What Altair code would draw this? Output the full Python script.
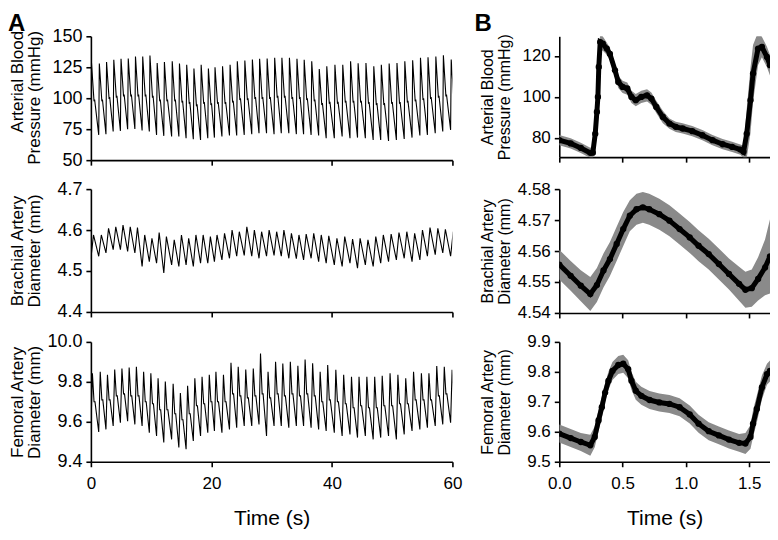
import altair as alt
import pandas as pd

# ---------------- Panel A: 60-s recordings (one entry per heartbeat) ----------------
beat_t = [0.1, 1.4, 2.6, 3.8, 5.0, 6.2, 7.4, 8.6, 9.8, 11.0, 12.2, 13.5, 14.7, 15.9, 17.1,
          18.3, 19.5, 20.6, 21.85, 23.1, 24.3, 25.55, 26.8, 28.0, 29.25, 30.5, 31.7, 32.95,
          34.2, 35.4, 36.65, 37.9, 39.15, 40.5, 41.8, 43.1, 44.35, 45.65, 46.95, 48.2, 49.5,
          50.8, 52.1, 53.4, 54.7, 55.95, 57.25, 58.5, 59.8]

bp_peak = [128.5, 128, 129.3, 131, 131.8, 132, 133.6, 133.6, 134.5, 128.5, 129.3, 129.9, 128,
           127.1, 123.9, 127.1, 123.9, 125, 125.8, 127.1, 129.9, 130.5, 131.3, 131.8, 132,
           132.6, 132.6, 132.6, 131.8, 131, 129.9, 123.6, 125.8, 127.1, 127.1, 129.9, 128.3,
           128.5, 125.8, 127.1, 128, 128.5, 129.9, 130.7, 132.6, 133.1, 133.6, 134.7, 131.3]
bp_trough = [100, 70.4, 70.9, 73.1, 73.6, 75.0, 75.2, 73.9, 73.1, 70.4, 69.6, 69.1, 69.1, 67.7,
             66.9, 66.3, 67.7, 68.2, 69.1, 69.9, 69.9, 70.4, 70.9, 71.7, 71.7, 70.9, 71.7, 71.7,
             71.0, 70.9, 70.4, 69.9, 67.7, 67.7, 69.1, 67.7, 68.2, 67.7, 66.3, 66.3, 65.5, 66.3,
             67.1, 68.2, 69.9, 70.4, 71.7, 73.1, 74.4]
bp_notch = [99, 99, 101, 102, 103, 103, 103, 103, 102, 99, 99, 99, 98, 97, 95, 97, 96, 97, 97,
            98, 100, 100, 101, 101, 101, 102, 102, 101, 101, 100, 99, 96, 97, 97, 98, 98, 98, 97,
            96, 96, 97, 97, 98, 99, 100, 101, 102, 103, 102]
bp_end = 73.0

ba_peak = [4.588, 4.588, 4.604, 4.608, 4.612, 4.608, 4.606, 4.588, 4.580, 4.594, 4.584, 4.576,
           4.588, 4.580, 4.588, 4.588, 4.584, 4.588, 4.592, 4.600, 4.596, 4.608, 4.600, 4.596,
           4.600, 4.596, 4.600, 4.592, 4.588, 4.590, 4.592, 4.588, 4.586, 4.580, 4.584, 4.578,
           4.580, 4.576, 4.584, 4.588, 4.590, 4.594, 4.596, 4.592, 4.600, 4.606, 4.604, 4.602,
           4.596]
ba_trough = [4.530, 4.536, 4.544, 4.552, 4.552, 4.548, 4.544, 4.511, 4.523, 4.519, 4.495, 4.515,
             4.511, 4.515, 4.511, 4.519, 4.519, 4.523, 4.527, 4.531, 4.536, 4.538, 4.536, 4.531,
             4.536, 4.538, 4.536, 4.531, 4.530, 4.527, 4.531, 4.523, 4.519, 4.515, 4.511, 4.519,
             4.507, 4.515, 4.511, 4.519, 4.523, 4.527, 4.531, 4.523, 4.527, 4.536, 4.540, 4.544,
             4.536]
ba_end = 4.54

fa_peak = [9.843, 9.851, 9.835, 9.862, 9.867, 9.872, 9.876, 9.851, 9.843, 9.818, 9.802, 9.790,
           9.744, 9.780, 9.818, 9.826, 9.835, 9.851, 9.835, 9.895, 9.876, 9.862, 9.867, 9.942,
           9.851, 9.901, 9.892, 9.901, 9.880, 9.912, 9.893, 9.851, 9.884, 9.860, 9.835, 9.826,
           9.826, 9.826, 9.826, 9.830, 9.843, 9.835, 9.818, 9.851, 9.843, 9.843, 9.879, 9.876,
           9.860]
fa_trough = [9.560, 9.549, 9.562, 9.579, 9.595, 9.603, 9.587, 9.579, 9.545, 9.529, 9.496, 9.512,
             9.471, 9.463, 9.504, 9.529, 9.545, 9.554, 9.545, 9.562, 9.570, 9.579, 9.579, 9.587,
             9.529, 9.579, 9.579, 9.570, 9.579, 9.579, 9.570, 9.562, 9.554, 9.545, 9.529, 9.537,
             9.521, 9.529, 9.512, 9.521, 9.529, 9.512, 9.537, 9.554, 9.562, 9.570, 9.579, 9.587,
             9.595]
fa_shoulder = [9.70, 9.71, 9.71, 9.73, 9.74, 9.73, 9.73, 9.70, 9.69, 9.66, 9.66, 9.64, 9.61, 9.64,
               9.68, 9.69, 9.70, 9.70, 9.70, 9.74, 9.73, 9.72, 9.73, 9.74, 9.72, 9.74, 9.73, 9.74,
               9.73, 9.74, 9.73, 9.70, 9.71, 9.70, 9.69, 9.67, 9.68, 9.67, 9.67, 9.68, 9.68, 9.69,
               9.69, 9.71, 9.71, 9.71, 9.73, 9.74, 9.73]
fa_end = 9.59

# ---------------- Panel B: ensemble-averaged cardiac cycle (mean and SD) ----------------
bp_t = [0.0, 0.09, 0.17, 0.245, 0.265, 0.284, 0.297, 0.305, 0.312, 0.323, 0.344, 0.375, 0.40,
        0.44, 0.466, 0.5, 0.537, 0.57, 0.604, 0.648, 0.693, 0.727, 0.766, 0.818, 0.87, 0.92,
        0.974, 1.05, 1.13, 1.21, 1.29, 1.365, 1.43, 1.455, 1.48, 1.51, 1.53, 1.57, 1.6, 1.64,
        1.664]
bp_mean = [78.9, 77.3, 75.1, 72.7, 72.8, 82, 92.7, 100, 114.6, 126.8, 126, 123.6, 121, 113,
           107.3, 104.9, 104.1, 100, 98.4, 100, 100.8, 99.2, 95.1, 90.2, 87, 85.4, 84.6, 83.3,
           81.3, 78.9, 76.9, 75.6, 74.3, 73.2, 82, 98.4, 111.4, 123.6, 124.4, 119.5, 115.5]
bp_sd = [2.5, 2.5, 2.5, 2.5, 3, 8, 10, 10, 8, 4, 3.5, 3, 3, 3, 3, 3, 3, 3, 3, 3, 3, 3, 3, 3,
         2.5, 2.5, 2.5, 2.5, 2.5, 2.5, 2.5, 2.5, 2.5, 3, 12, 16, 14, 8, 5, 5, 5]

ba_t = [0.0, 0.09, 0.17, 0.245, 0.297, 0.349, 0.40, 0.453, 0.505, 0.557, 0.61, 0.66, 0.71, 0.79,
        0.87, 0.95, 1.03, 1.10, 1.18, 1.26, 1.34, 1.42, 1.47, 1.52, 1.57, 1.625, 1.664]
ba_mean = [4.5556, 4.552, 4.5488, 4.5461, 4.549, 4.5537, 4.5574, 4.5623, 4.5671, 4.5714, 4.5735,
           4.5741, 4.5735, 4.5719, 4.5698, 4.5671, 4.5644, 4.5617, 4.559, 4.5558, 4.5526,
           4.5494, 4.5475, 4.548, 4.551, 4.5547, 4.5583]
ba_sd = [0.0048, 0.0048, 0.005, 0.0055, 0.0055, 0.0055, 0.0055, 0.0055, 0.0055, 0.005, 0.005,
         0.005, 0.005, 0.005, 0.005, 0.005, 0.005, 0.005, 0.005, 0.005, 0.005, 0.0055, 0.0058,
         0.006, 0.007, 0.009, 0.012]

fa_t = [0.0, 0.09, 0.17, 0.245, 0.28, 0.31, 0.336, 0.362, 0.388, 0.42, 0.466, 0.505, 0.544, 0.57,
        0.604, 0.648, 0.713, 0.79, 0.87, 0.95, 1.03, 1.10, 1.18, 1.26, 1.34, 1.42, 1.47, 1.51,
        1.53, 1.56, 1.6, 1.64, 1.664]
fa_mean = [9.594, 9.579, 9.566, 9.555, 9.583, 9.638, 9.682, 9.731, 9.77, 9.803, 9.823, 9.827,
           9.809, 9.77, 9.737, 9.72, 9.706, 9.698, 9.693, 9.682, 9.658, 9.627, 9.602, 9.588,
           9.574, 9.563, 9.561, 9.583, 9.627, 9.676, 9.748, 9.792, 9.803]
fa_sd = [0.03, 0.03, 0.03, 0.035, 0.035, 0.035, 0.035, 0.03, 0.03, 0.03, 0.03, 0.03, 0.03, 0.03,
         0.03, 0.03, 0.03, 0.03, 0.03, 0.03, 0.03, 0.03, 0.03, 0.03, 0.03, 0.03, 0.035, 0.04,
         0.045, 0.045, 0.04, 0.035, 0.035]

# ---------------- build tables ----------------
FONT = "Liberation Sans"
LW, RW = 362, 211
H1, H2, H3 = 124, 123, 120
RH1, RH2, RH3 = 121, 124, 120


def bp_table():
    t, v = [], []
    for i, tp in enumerate(beat_t):
        t += [tp - 0.1, tp, tp + 0.42, tp + 0.52]
        v += [bp_trough[i], bp_peak[i], bp_notch[i] - 1.5, bp_notch[i]]
    t.append(beat_t[-1] + 1.2)
    v.append(bp_end)
    return pd.DataFrame({"t": t, "v": v})


def ba_table():
    t, v = [], []
    for i, tp in enumerate(beat_t):
        t += [tp - 0.1, tp + 0.33]
        v += [ba_trough[i], ba_peak[i]]
    t.append(beat_t[-1] + 1.2)
    v.append(ba_end)
    return pd.DataFrame({"t": t, "v": v})


def fa_table():
    t, v = [], []
    for i, tp in enumerate(beat_t):
        t += [tp - 0.1, tp + 0.15, tp + 0.42, tp + 0.58]
        v += [fa_trough[i], fa_peak[i], fa_shoulder[i], fa_shoulder[i]]
    t.append(beat_t[-1] + 1.2)
    v.append(fa_end)
    return pd.DataFrame({"t": t, "v": v})


def avg_table(ts, ms, sds):
    return pd.DataFrame({"t": ts, "m": ms,
                         "lo": [m - s for m, s in zip(ms, sds)],
                         "hi": [m + s for m, s in zip(ms, sds)]})


def yaxis(title, values, fmt, tx, lfs, tfs, lh, align=None, ty=None):
    kw = dict(values=values, format=fmt, title=title, titleX=tx, titleFontSize=tfs,
              labelFontSize=lfs, titleLineHeight=lh, tickSize=5, labelPadding=4,
              titleBaseline="bottom", titleAngle=270, labelFlush=False)
    if align is not None:
        kw["titleAlign"] = align
    if ty is not None:
        kw["titleY"] = ty
    return alt.Axis(**kw)


def xaxis(values, fmt, show):
    if show:
        return alt.Axis(values=values, format=fmt, title="Time (s)", titleFontSize=21,
                        labelFontSize=17, labelPadding=9, titlePadding=16, tickSize=5,
                        labelFlush=False)
    return alt.Axis(values=values, labels=False, title=None, tickSize=5)


def trace(df, ydom, yax, xax, h):
    return alt.Chart(df).mark_line(color="black", strokeWidth=1.1, clip=True).encode(
        x=alt.X("t:Q", scale=alt.Scale(domain=[0, 60], nice=False, zero=False), axis=xax),
        y=alt.Y("v:Q", scale=alt.Scale(domain=ydom, nice=False, zero=False), axis=yax),
    ).properties(width=LW, height=h)


def avg(df, ydom, yax, xax, h):
    xs = alt.X("t:Q", scale=alt.Scale(domain=[0, 1.664], nice=False, zero=False), axis=xax)
    ys = alt.Scale(domain=ydom, nice=False, zero=False)
    base = alt.Chart(df)
    band = base.mark_area(color="#8a8a8a", opacity=1, clip=True).encode(
        x=xs, y=alt.Y("lo:Q", scale=ys, axis=yax), y2="hi:Q")
    line = base.mark_line(color="black", strokeWidth=5, clip=True).encode(
        x=xs, y=alt.Y("m:Q", scale=ys, axis=yax))
    pts = base.mark_circle(color="black", size=40, opacity=1, clip=True).encode(
        x=xs, y=alt.Y("m:Q", scale=ys, axis=yax))
    return alt.layer(band, line, pts).properties(width=RW, height=h)


def panel_label(letter, x):
    return alt.Chart(pd.DataFrame({"lab": [letter]})).mark_text(
        align="left", baseline="top", fontSize=24, fontWeight="bold", font=FONT, color="black"
    ).encode(x=alt.value(x), y=alt.value(-24), text="lab:N")


xl_vals = [0, 20, 40, 60]
xr_vals = [0, 0.5, 1.0, 1.5]

l1 = alt.layer(
    trace(bp_table(), [50, 150],
          yaxis(["Arterial Blood", "Pressure (mmHg)"], [50, 75, 100, 125, 150], "d",
                -64, 18, 17, 17, align="right", ty=-6),
          xaxis(xl_vals, "d", False), H1),
    panel_label("A", -83),
)
l2 = trace(ba_table(), [4.4, 4.7],
           yaxis(["Brachial Artery", "Diameter (mm)"], [4.4, 4.5, 4.6, 4.7], ".1f", -64, 18, 17, 17),
           xaxis(xl_vals, "d", False), H2)
l3 = trace(fa_table(), [9.4, 10.0],
           yaxis(["Femoral Artery", "Diameter (mm)"], [9.4, 9.6, 9.8, 10.0], ".1f", -64, 18, 17, 17),
           xaxis(xl_vals, "d", True), H3)

r1 = alt.layer(
    avg(avg_table(bp_t, bp_mean, bp_sd), [70.6, 129.6],
        yaxis(["Arterial Blood", "Pressure (mmHg)"], [80, 100, 120], "d", -64, 17, 16, 17),
        xaxis(xr_vals, ".1f", False), RH1),
    panel_label("B", -85),
)
r2 = avg(avg_table(ba_t, ba_mean, ba_sd), [4.54, 4.58],
         yaxis(["Brachial Artery", "Diameter (mm)"], [4.54, 4.55, 4.56, 4.57, 4.58], ".2f",
               -64, 17, 16, 17),
         xaxis(xr_vals, ".1f", False), RH2)
r3 = avg(avg_table(fa_t, fa_mean, fa_sd), [9.5, 9.9],
         yaxis(["Femoral Artery", "Diameter (mm)"], [9.5, 9.6, 9.7, 9.8, 9.9], ".1f",
               -64, 17, 16, 17),
         xaxis(xr_vals, ".1f", True), RH3)

chart = alt.concat(
    l1, r1, l2, r2, l3, r3,
    columns=2, spacing={"row": 29, "column": 107}, bounds="flush", align="each",
).properties(
    padding={"left": 0, "top": 4, "right": 0, "bottom": 0}
).configure_axis(
    labelFont=FONT, titleFont=FONT, labelColor="black", titleColor="black",
    domainColor="black", tickColor="black", domainWidth=1.6, tickWidth=1.6,
    grid=False, titleFontWeight="normal",
).configure_view(strokeWidth=0)

chart.save("out.html", embed_options={"renderer": "svg", "actions": False})
